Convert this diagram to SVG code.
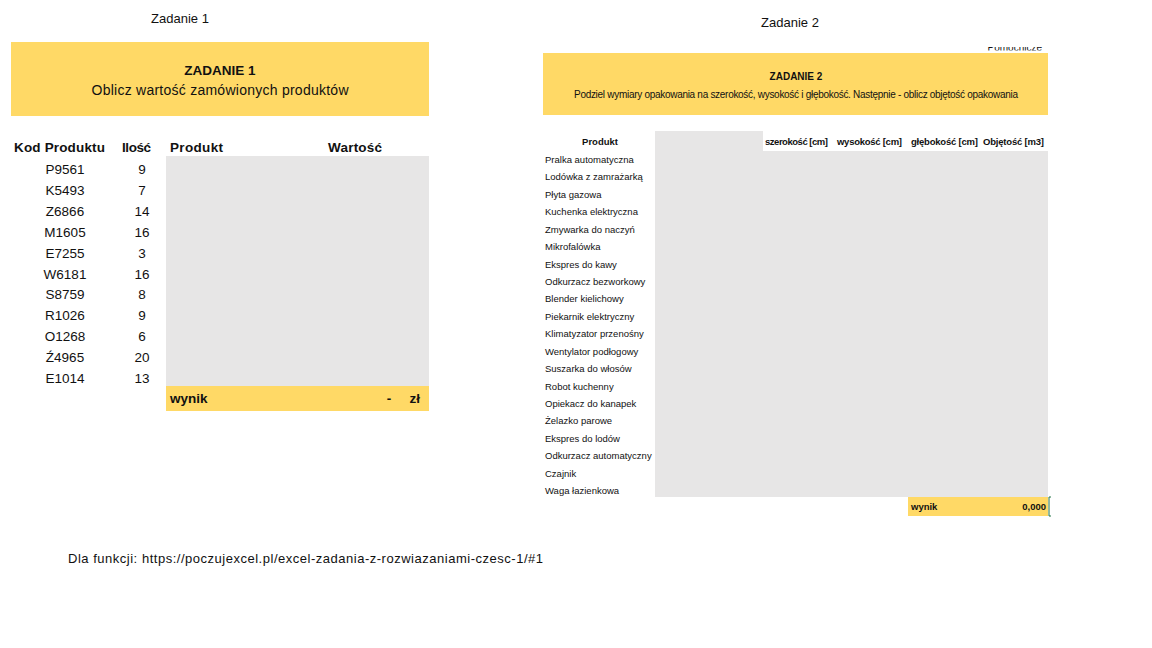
<svg xmlns="http://www.w3.org/2000/svg" width="1152" height="648" viewBox="0 0 1152 648">
<style>
text{font-family:"Liberation Sans","Noto Sans",sans-serif;fill:#111}
.b{font-weight:bold}
.y{fill:#FFD966}
.g{fill:#E7E6E6}
.t1{font-size:13.5px}
.t2{font-size:9.5px}
.c{text-anchor:middle}
.r{text-anchor:end}
</style>
<defs><clipPath id="cp"><rect x="960" y="47" width="100" height="3.5"/></clipPath></defs>
<rect width="1152" height="648" fill="#fff"/>
<g id="zadanie1">
<text x="180" y="23" class="c" font-size="13">Zadanie 1</text>
<rect x="11" y="42" width="418" height="74" class="y"/>
<text x="220" y="75" class="c b" font-size="13.5">ZADANIE 1</text>
<text x="220" y="95" class="c" font-size="14" textLength="257">Oblicz wartość zamówionych produktów</text>
<text x="14" y="152" class="b t1" textLength="91">Kod Produktu</text>
<text x="122" y="152" class="b t1" textLength="29">Ilość</text>
<text x="170" y="152" class="b t1" textLength="53">Produkt</text>
<text x="328" y="152" class="b t1" textLength="54">Wartość</text>
<rect x="166" y="156" width="263" height="230" class="g"/>
<rect x="166" y="386" width="263" height="25" class="y"/>
<text x="170" y="403" class="b t1">wynik</text>
<text x="389" y="403" class="b t1 c">-</text>
<text x="420" y="403" class="b t1 r">zł</text>
<g class="t1">
<text x="65" y="174" class="c">P9561</text><text x="142" y="174" class="c">9</text>
<text x="65" y="195" class="c">K5493</text><text x="142" y="195" class="c">7</text>
<text x="65" y="216" class="c">Z6866</text><text x="142" y="216" class="c">14</text>
<text x="65" y="237" class="c">M1605</text><text x="142" y="237" class="c">16</text>
<text x="65" y="258" class="c">E7255</text><text x="142" y="258" class="c">3</text>
<text x="65" y="279" class="c">W6181</text><text x="142" y="279" class="c">16</text>
<text x="65" y="299" class="c">S8759</text><text x="142" y="299" class="c">8</text>
<text x="65" y="320" class="c">R1026</text><text x="142" y="320" class="c">9</text>
<text x="65" y="341" class="c">O1268</text><text x="142" y="341" class="c">6</text>
<text x="65" y="362" class="c">Ź4965</text><text x="142" y="362" class="c">20</text>
<text x="65" y="383" class="c">E1014</text><text x="142" y="383" class="c">13</text>
</g>
</g>
<g id="zadanie2">
<text x="790" y="27" class="c" font-size="13">Zadanie 2</text>
<text x="1042" y="50.5" class="r" font-size="10" clip-path="url(#cp)">Pomocnicze</text>
<rect x="543" y="53" width="505" height="62" class="y"/>
<text x="796" y="80" class="c b" font-size="10">ZADANIE 2</text>
<text x="796" y="98" class="c" font-size="10" textLength="444">Podziel wymiary opakowania na szerokość, wysokość i głębokość. Następnie - oblicz objętość opakowania</text>
<rect x="655" y="131" width="108" height="20" class="g"/>
<rect x="655" y="151" width="393" height="346" class="g"/>
<text x="600" y="145" class="c b t2">Produkt</text>
<text x="765" y="145" class="b t2" textLength="63">szerokość [cm]</text>
<text x="837" y="145" class="b t2" textLength="65">wysokość [cm]</text>
<text x="911" y="145" class="b t2" textLength="67">głębokość [cm]</text>
<text x="983" y="145" class="b t2" textLength="61">Objętość [m3]</text>
<g class="t2">
<text x="545" y="163">Pralka automatyczna</text>
<text x="545" y="180.4">Lodówka z zamrażarką</text>
<text x="545" y="197.8">Płyta gazowa</text>
<text x="545" y="215.3">Kuchenka elektryczna</text>
<text x="545" y="232.7">Zmywarka do naczyń</text>
<text x="545" y="250.1">Mikrofalówka</text>
<text x="545" y="267.5">Ekspres do kawy</text>
<text x="545" y="284.9">Odkurzacz bezworkowy</text>
<text x="545" y="302.4">Blender kielichowy</text>
<text x="545" y="319.8">Piekarnik elektryczny</text>
<text x="545" y="337.2">Klimatyzator przenośny</text>
<text x="545" y="354.6">Wentylator podłogowy</text>
<text x="545" y="372">Suszarka do włosów</text>
<text x="545" y="389.5">Robot kuchenny</text>
<text x="545" y="406.9">Opiekacz do kanapek</text>
<text x="545" y="424.3">Żelazko parowe</text>
<text x="545" y="441.7">Ekspres do lodów</text>
<text x="545" y="459.1">Odkurzacz automatyczny</text>
<text x="545" y="476.6">Czajnik</text>
<text x="545" y="494">Waga łazienkowa</text>
</g>
<rect x="908" y="497" width="140" height="19" class="y"/>
<text x="911" y="510" class="b t2">wynik</text>
<text x="1046" y="510" class="b t2 r">0,000</text>
<path d="M1049 497v19M1049 497h2M1049 516h2" stroke="#217346" stroke-width="1" fill="none"/>
</g>
<g id="footer">
<text x="68" y="563" font-size="13" textLength="475">Dla funkcji:  https://poczujexcel.pl/excel-zadania-z-rozwiazaniami-czesc-1/#1</text>
</g>
<g id="connectors"/>
</svg>
